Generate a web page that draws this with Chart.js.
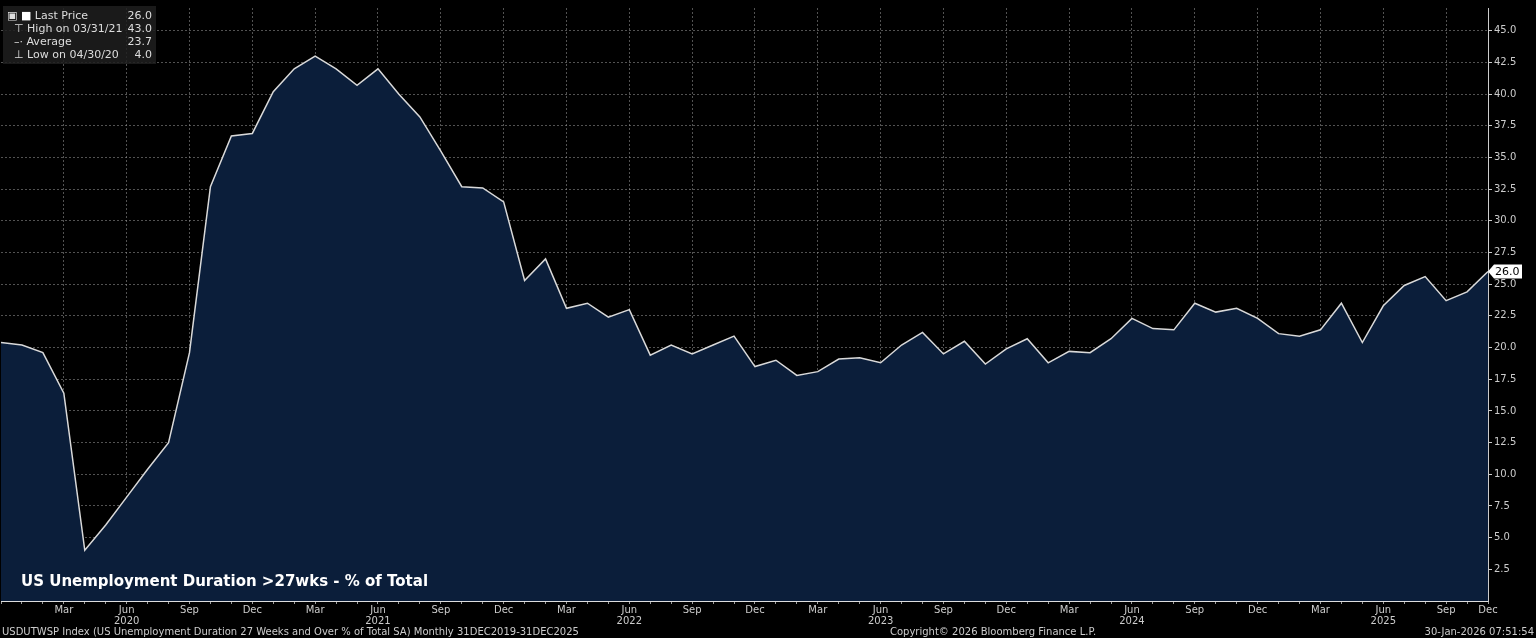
<!DOCTYPE html>
<html>
<head>
<meta charset="utf-8">
<script src="https://cdn.jsdelivr.net/npm/chart.js@4/dist/chart.umd.min.js"></script>
<style>
  body { margin:0; background:#000; width:1536px; height:638px; overflow:hidden; font-family:"DejaVu Sans", sans-serif; }
  #wrap { position:absolute; left:0; top:0; width:1536px; height:628px; }
  #legend { position:absolute; left:3px; top:6px; width:145px; background:rgba(30,30,30,0.85); color:#ddd; font-size:11px; padding:3px 4px; line-height:13px; }
  #legend div { display:flex; justify-content:space-between; }
  #title { position:absolute; left:21px; top:572px; color:#fff; font-weight:bold; font-size:15px; }
  #foot { position:absolute; left:2px; top:626px; width:1532px; color:#ccc; font-size:10px; height:12px; }
  #foot span { position:absolute; top:0; white-space:nowrap; }
</style>
</head>
<body>
<div id="wrap"><canvas id="chart" width="1536" height="628"></canvas></div>
<div id="legend">
  <div><span>&#9635; <b style="color:#fff">&#9632;</b> Last Price</span><span>26.0</span></div>
  <div><span>&nbsp;&nbsp;&#8868; High on 03/31/21</span><span>43.0</span></div>
  <div><span>&nbsp;&nbsp;&#8211;&#183; Average</span><span>23.7</span></div>
  <div><span>&nbsp;&nbsp;&#8869; Low on 04/30/20</span><span>4.0</span></div>
</div>
<div id="title">US Unemployment Duration &gt;27wks - % of Total</div>
<div id="foot">
  <span style="left:0">USDUTWSP Index (US Unemployment Duration 27 Weeks and Over % of Total SA) Monthly 31DEC2019-31DEC2025</span>
  <span style="left:888px">Copyright&copy; 2026 Bloomberg Finance L.P.</span>
  <span style="right:0">30-Jan-2026 07:51:54</span>
</div>
<script>
// 月の並び (2025年10月はデータなし)
var monthNames = ['Jan','Feb','Mar','Apr','May','Jun','Jul','Aug','Sep','Oct','Nov','Dec'];
var months = ['2019-12'];
for (var y = 2020; y <= 2025; y++) {
  for (var m = 1; m <= 12; m++) {
    if (y === 2025 && m === 10) continue;
    months.push(y + '-' + (m < 10 ? '0' + m : m));
  }
}
// % of total
var values = [
  20.4, 20.2, 19.6, 16.4, 4.0, 6.0, 8.2, 10.4, 12.5, 19.6, 32.7, 36.7,
  36.9, 40.2, 42.0, 43.0, 42.0, 40.7, 42.0, 40.0, 38.2, 35.5, 32.7, 32.6,
  31.5, 25.3, 27.0, 23.1, 23.5, 22.4, 23.0, 19.4, 20.2, 19.5, 20.2, 20.9,
  18.5, 19.0, 17.8, 18.1, 19.1, 19.2, 18.8, 20.2, 21.2, 19.5, 20.5, 18.7,
  19.9, 20.7, 18.8, 19.7, 19.6, 20.7, 22.3, 21.5, 21.4, 23.5, 22.8, 23.1,
  22.3, 21.1, 20.9, 21.4, 23.5, 20.4, 23.3, 24.9, 25.6, 23.7, 24.4, 26.0
];
var yTicks = [2.5, 5, 7.5, 10, 12.5, 15, 17.5, 20, 22.5, 25, 27.5, 30, 32.5, 35, 37.5, 40, 42.5, 45];

function isQuarter(i) {
  var m = parseInt(months[i].slice(5), 10);
  return m % 3 === 0 && i > 0;
}

// 最終値のラベル
var lastLabel = {
  id: 'lastLabel',
  afterDraw: function(chart) {
    var ctx = chart.ctx, ys = chart.scales.y;
    var py = ys.getPixelForValue(values[values.length - 1]);
    var x = ys.left + 4;
    ctx.save();
    ctx.fillStyle = '#fff';
    ctx.beginPath();
    ctx.moveTo(x - 4, py);
    ctx.lineTo(x + 2, py - 7);
    ctx.lineTo(x + 30, py - 7);
    ctx.lineTo(x + 30, py + 7);
    ctx.lineTo(x + 2, py + 7);
    ctx.closePath();
    ctx.fill();
    ctx.fillStyle = '#000';
    ctx.font = '11px "DejaVu Sans"';
    ctx.textBaseline = 'middle';
    ctx.fillText(values[values.length - 1].toFixed(1), x + 3, py + 1);
    ctx.restore();
  }
};

var context = document.getElementById('chart').getContext('2d');
var myChart = new Chart(context, {
  type: 'line',
  data: {
    labels: months,
    datasets: [{
      data: values,
      borderColor: '#d9d9d9',
      borderWidth: 1.5,
      backgroundColor: 'rgb(11,30,58)',
      fill: 'origin',
      pointRadius: 0,
      tension: 0
    }]
  },
  options: {
    responsive: false,
    animation: false,
    layout: { padding: 0 },
    plugins: { legend: { display: false }, tooltip: { enabled: false } },
    scales: {
      x: {
        offset: false,
        grid: {
          color: function(c) { return isQuarter(c.index) ? 'rgba(150,150,150,0.55)' : 'rgba(0,0,0,0)'; },
          tickColor: 'rgba(200,200,200,0.8)',
          tickLength: 3
        },
        border: { dash: [2, 2], color: '#ddd' },
        ticks: {
          autoSkip: false,
          maxRotation: 0,
          color: '#ccc',
          font: { size: 10, family: 'DejaVu Sans', lineHeight: 1.1 },
          padding: 1,
          callback: function(v, i) {
            if (!isQuarter(i)) return '';
            var m = parseInt(months[i].slice(5), 10);
            var name = monthNames[m - 1];
            if (m === 6) return [name, months[i].slice(0, 4)];
            return name;
          }
        }
      },
      y: {
        position: 'right',
        min: 0,
        max: 46.8,
        afterFit: function(s) { s.width = 48; },
        afterBuildTicks: function(s) { s.ticks = yTicks.map(function(v) { return { value: v }; }); },
        grid: { color: 'rgba(150,150,150,0.55)', tickColor: '#ccc', tickLength: 4 },
        border: { color: '#ccc', dash: [2, 2] },
        ticks: {
          autoSkip: false,
          color: '#ccc',
          font: { size: 10, family: 'DejaVu Sans' },
          padding: 2,
          callback: function(v) { return v.toFixed(1); }
        }
      }
    }
  },
  plugins: [lastLabel]
});
</script>
</body>
</html>
